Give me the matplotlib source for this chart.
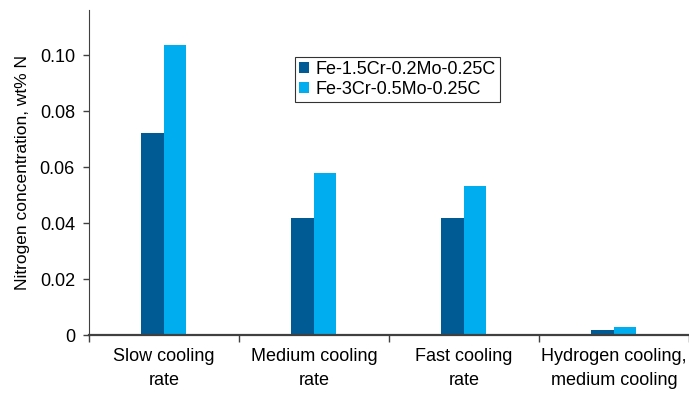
import numpy as np
import matplotlib.pyplot as plt

categories = ["Slow cooling\nrate", "Medium cooling\nrate", "Fast cooling\nrate",
              "Hydrogen cooling,\nmedium cooling"]
series_names = ["Fe-1.5Cr-0.2Mo-0.25C", "Fe-3Cr-0.5Mo-0.25C"]
low_cr = [0.0723, 0.042, 0.042, 0.002]
high_cr = [0.1038, 0.058, 0.0534, 0.003]
yticks = [0, 0.02, 0.04, 0.06, 0.08, 0.10]
ytick_labels = ["0", "0.02", "0.04", "0.06", "0.08", "0.10"]

plt.rcParams['font.family'] = ['Liberation Sans', 'DejaVu Sans']

fig = plt.figure(figsize=(6.89, 3.98), dpi=100)
ax = fig.add_axes([0.129, 0.158, 0.871, 0.818])

x = np.arange(len(categories))
w = 0.15
ax.bar(x - w, low_cr, w, align='edge', color='#005A94', label=series_names[0])
ax.bar(x, high_cr, w, align='edge', color='#00AEEF', label=series_names[1])

ax.set_xlim(-0.5, 3.5)
ax.set_ylim(0, 0.1163)
ax.set_yticks(yticks)
ax.set_yticklabels(ytick_labels, fontsize=13)
ax.set_xticks(x)
ax.set_xticklabels(categories, fontsize=13, linespacing=1.6)
ax.set_xticks(np.arange(-0.5, 3.6, 1), minor=True)
ax.tick_params(axis='x', which='major', length=0, pad=9)
ax.tick_params(axis='x', which='minor', length=5, width=1, color='#404040')
ax.tick_params(axis='y', length=4, width=1, color='#404040', pad=6)

for s in ['top', 'right']:
    ax.spines[s].set_visible(False)
ax.spines['left'].set_color('#404040')
ax.spines['bottom'].set_color('#404040')
ax.spines['bottom'].set_linewidth(1.6)

ax.set_ylabel("Nitrogen concentration, wt% N", fontsize=12.5, labelpad=7)

leg = ax.legend(loc='upper left', bbox_to_anchor=(0.343, 0.855), fontsize=13,
                frameon=True, fancybox=False, handlelength=0.55, handleheight=0.55,
                handletextpad=0.35, borderpad=0.25, labelspacing=0.15, borderaxespad=0)
leg.get_frame().set_edgecolor('black')
leg.get_frame().set_linewidth(0.8)

fig.savefig("out.png", dpi=100)
